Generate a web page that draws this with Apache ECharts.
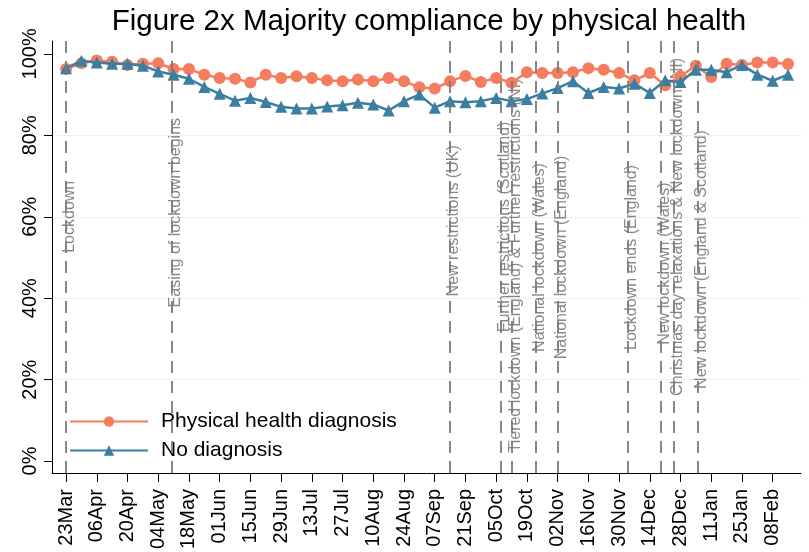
<!DOCTYPE html>
<html>
<head>
<meta charset="UTF-8">
<title>Figure 2x Majority compliance by physical health</title>
<script src="https://cdn.jsdelivr.net/npm/echarts@6/dist/echarts.min.js"></script>
<style>
	html, body { margin: 0; padding: 0; background: #ffffff; }
	#chart { width: 809px; height: 552px; }
</style>
</head>
<body>
<div id="chart"></div>
<script>
// weekly survey waves
var weeks = ['2020-03-23', '2020-03-30', '2020-04-06', '2020-04-13', '2020-04-20', '2020-04-27',
	'2020-05-04', '2020-05-11', '2020-05-18', '2020-05-25', '2020-06-01', '2020-06-08',
	'2020-06-15', '2020-06-22', '2020-06-29', '2020-07-06', '2020-07-13', '2020-07-20',
	'2020-07-27', '2020-08-03', '2020-08-10', '2020-08-17', '2020-08-24', '2020-08-31',
	'2020-09-07', '2020-09-14', '2020-09-21', '2020-09-28', '2020-10-05', '2020-10-12',
	'2020-10-19', '2020-10-26', '2020-11-02', '2020-11-09', '2020-11-16', '2020-11-23',
	'2020-11-30', '2020-12-07', '2020-12-14', '2020-12-21', '2020-12-28', '2021-01-04',
	'2021-01-11', '2021-01-18', '2021-01-25', '2021-02-01', '2021-02-08', '2021-02-15'];

var physical = [96.3, 97.7, 98.4, 98.1, 97.3, 97.6, 97.7, 96.3, 96.3, 94.9, 94.1, 93.9,
	93.0, 94.9, 94.1, 94.5, 94.1, 93.5, 93.3, 93.7, 93.3, 94.1, 93.3, 91.8,
	91.5, 93.3, 94.6, 93.1, 94.1, 92.9, 95.5, 95.3, 95.3, 95.5, 96.5, 96.1,
	95.3, 93.5, 95.3, 92.3, 94.5, 97.1, 94.3, 97.6, 97.3, 97.9, 97.9, 97.5];

var noDiagnosis = [96.5, 98.3, 97.9, 97.6, 97.6, 97.1, 95.7, 94.9, 93.9, 91.9, 90.2, 88.5,
	89.2, 88.2, 87.0, 86.6, 86.6, 87.1, 87.4, 88.0, 87.6, 86.1, 88.4, 90.0,
	86.8, 88.4, 88.1, 88.4, 89.2, 88.4, 88.9, 90.3, 91.6, 93.3, 90.4, 91.9,
	91.5, 92.7, 90.4, 93.5, 93.1, 96.1, 96.1, 95.5, 97.3, 94.9, 93.4, 94.9];

var tickDates = ['2020-03-23', '2020-04-06', '2020-04-20', '2020-05-04', '2020-05-18', '2020-06-01',
	'2020-06-15', '2020-06-29', '2020-07-13', '2020-07-27', '2020-08-10', '2020-08-24',
	'2020-09-07', '2020-09-21', '2020-10-05', '2020-10-19', '2020-11-02', '2020-11-16',
	'2020-11-30', '2020-12-14', '2020-12-28', '2021-01-11', '2021-01-25', '2021-02-08'];

var yTicks = [0, 20, 40, 60, 80, 100];

var eventDates = ['2020-03-23', '2020-05-10', '2020-09-14', '2020-10-07', '2020-10-12', '2020-10-23',
	'2020-11-02', '2020-12-04', '2020-12-19', '2020-12-25', '2021-01-05'];
var eventLabels = ['Lockdown', 'Easing of lockdown begins', 'New restrictions (UK)',
	'Further restrictions (Scotland)', 'Tiered lockdown (England) & Further restrictions (NI)',
	'National lockdown (Wales)', 'National lockdown (England)', 'Lockdown ends (England)',
	'New lockdown (Wales)', 'Christmas day relaxations & New lockdown (NI)',
	'New lockdown (England & Scotland)'];
// height (in %) where each event label is centred
var eventLabelY = [60, 61, 59, 57.5, 48, 50, 50, 50, 48.5, 57.5, 49.5];

var MONTHS = ['Jan', 'Feb', 'Mar', 'Apr', 'May', 'Jun', 'Jul', 'Aug', 'Sep', 'Oct', 'Nov', 'Dec'];
var BASE = Date.UTC(2020, 2, 23);
var FONT = '"Liberation Sans", Arial, sans-serif';

function dayNo(s) {
	var p = s.split('-');
	return (Date.UTC(+p[0], +p[1] - 1, +p[2]) - BASE) / 86400000;
}
function dayLabel(d) {
	var dt = new Date(BASE + Math.round(d) * 86400000);
	var dd = dt.getUTCDate();
	return (dd < 10 ? '0' + dd : '' + dd) + MONTHS[dt.getUTCMonth()];
}
function pairs(vals) {
	return weeks.map(function(w, i) { return [dayNo(w), vals[i]]; });
}

var xTicks = tickDates.map(dayNo);
var eventDays = eventDates.map(dayNo);

var chart = echarts.init(document.getElementById('chart'));

var option = {
	animation: false,
	backgroundColor: '#ffffff',
	textStyle: { fontFamily: FONT },
	title: {
		text: 'Figure 2x Majority compliance by physical health',
		left: 424,
		top: 2,
		textAlign: 'center',
		textStyle: { fontSize: 29.5, fontWeight: 'normal', color: '#000', fontFamily: FONT }
	},
	legend: {
		orient: 'vertical',
		left: 69,
		top: 411,
		padding: 0,
		itemWidth: 78,
		itemHeight: 13,
		itemGap: 8,
		textStyle: { fontSize: 21, color: '#000', fontFamily: FONT, padding: [0, 0, 0, 8] },
		data: ['Physical health diagnosis', 'No diagnosis']
	},
	grid: { left: 52, right: 8, top: 41, bottom: 76 },
	xAxis: {
		type: 'value',
		min: -6.4,
		max: 334.9,
		axisLine: { onZero: false, lineStyle: { color: '#000', width: 1 } },
		axisTick: { customValues: xTicks, length: 9, lineStyle: { color: '#000' } },
		axisLabel: {
			customValues: xTicks,
			rotate: 90,
			margin: 16,
			fontSize: 20,
			color: '#000',
			fontFamily: FONT,
			formatter: function(v) { return dayLabel(v); }
		},
		splitLine: { show: false }
	},
	yAxis: {
		type: 'value',
		min: -2.93,
		max: 103.17,
		axisLine: { show: true, onZero: false, lineStyle: { color: '#000', width: 1 } },
		axisTick: { show: true, customValues: yTicks, length: 8, lineStyle: { color: '#000' } },
		axisLabel: {
			customValues: yTicks,
			rotate: 90,
			margin: 12,
			fontSize: 20,
			color: '#000',
			fontFamily: FONT,
			formatter: function(v) { return v + '%'; }
		},
		splitLine: {
			show: true,
			showMinLine: false,
			showMaxLine: false,
			lineStyle: { color: '#e9f1f3', width: 1 }
		}
	},
	series: [
		{
			name: 'events',
			type: 'scatter',
			silent: true,
			z: 1,
			symbolSize: 1,
			itemStyle: { color: 'rgba(0,0,0,0)' },
			data: eventDays.map(function(d, i) {
				return { value: [d, eventLabelY[i]], name: eventLabels[i] };
			}),
			label: {
				show: true,
				formatter: '{b}',
				position: 'inside',
				rotate: 90,
				offset: [0, 4],
				fontSize: 16,
				color: '#6a6a6a',
				fontFamily: FONT
			},
			markLine: {
				silent: true,
				symbol: 'none',
				label: { show: false },
				lineStyle: { type: [12, 8], color: '#7b7b7b', width: 1.8 },
				data: eventDays.map(function(d) { return { xAxis: d }; })
			}
		},
		{
			name: 'Physical health diagnosis',
			type: 'line',
			z: 3,
			data: pairs(physical),
			symbol: 'circle',
			symbolSize: 12,
			showAllSymbol: true,
			lineStyle: { width: 2.5, color: '#f47c5f' },
			itemStyle: { color: '#f47c5f' }
		},
		{
			name: 'No diagnosis',
			type: 'line',
			z: 4,
			data: pairs(noDiagnosis),
			symbol: 'triangle',
			symbolSize: 12,
			showAllSymbol: true,
			lineStyle: { width: 2.5, color: '#3a7ea1' },
			itemStyle: { color: '#3a7ea1' }
		}
	]
};

chart.setOption(option);
</script>
</body>
</html>
